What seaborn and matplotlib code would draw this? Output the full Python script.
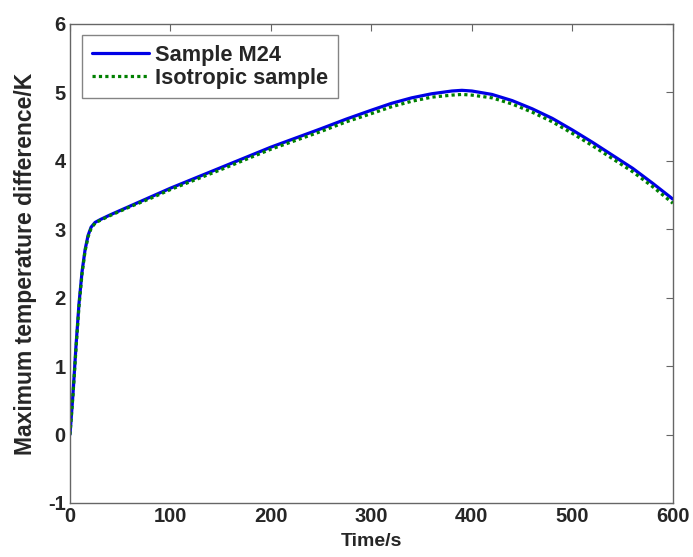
import numpy as np
import pandas as pd
import matplotlib
matplotlib.use("Agg")
import matplotlib.pyplot as plt
import seaborn as sns

# values
time_s = [0, 3, 6, 9, 12, 15, 18, 21, 25, 30, 40, 60, 80, 100, 150, 200, 250,
          275, 300, 320, 340, 360, 380, 390, 400, 420, 440, 460, 480, 500,
          520, 540, 560, 580, 600]
sample_m24 = [0.0, 0.6, 1.3, 1.92, 2.38, 2.7, 2.91, 3.03, 3.1, 3.14, 3.21,
              3.34, 3.47, 3.6, 3.9, 4.2, 4.47, 4.61, 4.74, 4.84, 4.92, 4.98,
              5.02, 5.03, 5.02, 4.97, 4.88, 4.76, 4.62, 4.45, 4.27, 4.08,
              3.89, 3.67, 3.44]
isotropic = [0.0, 0.58, 1.26, 1.88, 2.35, 2.68, 2.89, 3.01, 3.09, 3.13, 3.2,
             3.33, 3.45, 3.58, 3.87, 4.17, 4.43, 4.57, 4.69, 4.79, 4.87, 4.93,
             4.96, 4.97, 4.96, 4.92, 4.83, 4.71, 4.57, 4.4, 4.22, 4.03, 3.84,
             3.62, 3.38]

labels = ["Sample M24", "Isotropic sample"]

df = pd.DataFrame({
    "t": time_s * 2,
    "dT": sample_m24 + isotropic,
    "series": [labels[0]] * len(time_s) + [labels[1]] * len(time_s),
})

sns.set_style("white")
plt.rcParams["font.family"] = ["Liberation Sans", "DejaVu Sans"]
plt.rcParams["font.weight"] = "bold"
plt.rcParams["axes.unicode_minus"] = False

fig = plt.figure(figsize=(6.93, 5.57), dpi=100)
ax = fig.add_axes([0.101, 0.097, 0.870, 0.860])

sns.lineplot(data=df, x="t", y="dT", hue="series", style="series",
             palette={labels[0]: "#0000e6", labels[1]: "#008000"},
             dashes={labels[0]: "", labels[1]: (1, 1)},
             linewidth=2.3, ax=ax)

ax.set_xlim(0, 600)
ax.set_ylim(-1, 6)
ax.set_xticks(range(0, 601, 100))
ax.set_yticks(range(-1, 7))
ax.tick_params(direction="in", top=True, right=True, length=5, width=0.8,
               labelsize=14.5, color="#666666", pad=3)
for lab in ax.get_xticklabels() + ax.get_yticklabels():
    lab.set_fontweight("bold")
for sp in ax.spines.values():
    sp.set_color("#666666")
    sp.set_linewidth(1.0)

ax.set_xlabel("Time/s", fontsize=14, fontweight="bold")
ax.set_ylabel("Maximum temperature difference/K", fontsize=16.5,
              fontweight="bold")
ax.xaxis.set_label_coords(0.5, -0.062)
ax.yaxis.set_label_coords(-0.055, 0.5)

leg = ax.legend(loc="upper left", bbox_to_anchor=(0.02, 0.977),
                borderaxespad=0, fontsize=15.7, frameon=True, fancybox=False,
                handlelength=2.6, borderpad=0.45, labelspacing=0.08,
                handletextpad=0.3)
leg.get_frame().set_edgecolor("#666666")
leg.get_frame().set_linewidth(1.0)
for t in leg.get_texts():
    t.set_fontweight("bold")

fig.savefig("out.png", dpi=100)
